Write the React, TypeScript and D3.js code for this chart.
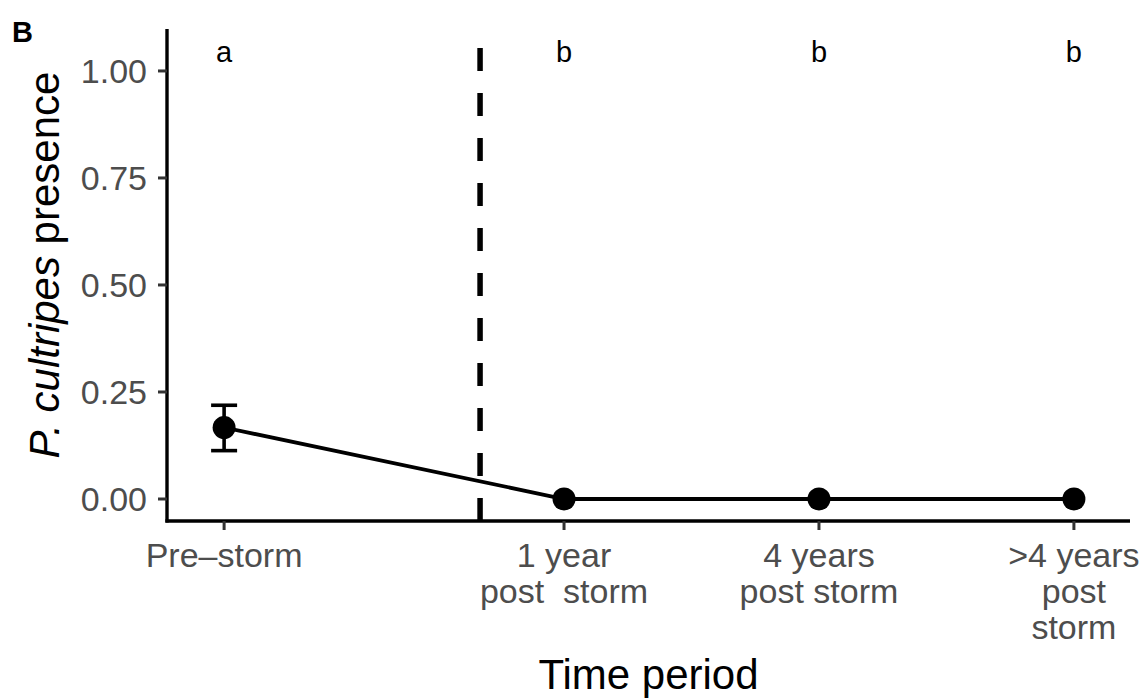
import React from "react";
import * as d3 from "d3";

const categories = ["Pre-storm", "1 year post storm", "4 years post storm", ">4 years post storm"];
const tickLines = [["Pre\u2013storm"], ["1 year", "post  storm"], ["4 years", "post storm"], [">4 years", "post", "storm"]];
const xPositions = [0, 1, 1.75, 2.5];
const meanValues = [0.167, 0, 0, 0];
const lowerValues = [0.113, 0, 0, 0];
const upperValues = [0.219, 0, 0, 0];
const letters = ["a", "b", "b", "b"];
const yTicks = [0, 0.25, 0.5, 0.75, 1.0];
const stormX = 0.753;
const letterY = 1.045;

const W = 1143;
const H = 699;
const left = 167, right = 1130, top = 29, bottom = 521;

export default function App() {
  const x = d3.scaleLinear().domain([-0.168, 2.665]).range([left, right]);
  const y = d3.scaleLinear().domain([-0.0514, 1.098]).range([bottom, top]);
  const line = d3.line<number>().x((_, i) => x(xPositions[i])).y((d) => y(d));
  const tickFont = "'Liberation Sans', Arial, Helvetica, sans-serif";
  return (
    <svg width={W} height={H} style={{ position: "absolute", left: 0, top: 0, background: "#fff" }} fontFamily={tickFont}>
      <rect x={0} y={0} width={W} height={H} fill="#fff" />
      <text x={12} y={42} fontSize={29} fontWeight="bold" fill="#000">B</text>
      {/* dashed storm line */}
      <line x1={x(stormX)} x2={x(stormX)} y1={bottom} y2={top} stroke="#000" strokeWidth={5.5} strokeDasharray="23,22" />
      {/* data line */}
      <path d={line(meanValues) || ""} fill="none" stroke="#000" strokeWidth={3.8} />
      {/* error bars */}
      {categories.map((c, i) => (
        upperValues[i] > lowerValues[i] ? (
          <g key={"eb" + i} stroke="#000" strokeWidth={3.6}>
            <line x1={x(xPositions[i])} x2={x(xPositions[i])} y1={y(lowerValues[i])} y2={y(upperValues[i])} />
            <line x1={x(xPositions[i]) - 13} x2={x(xPositions[i]) + 13} y1={y(lowerValues[i])} y2={y(lowerValues[i])} />
            <line x1={x(xPositions[i]) - 13} x2={x(xPositions[i]) + 13} y1={y(upperValues[i])} y2={y(upperValues[i])} />
          </g>
        ) : null
      ))}
      {meanValues.map((v, i) => (
        <circle key={"pt" + i} cx={x(xPositions[i])} cy={y(v)} r={11.5} fill="#000" />
      ))}
      {letters.map((l, i) => (
        <text key={"lt" + i} x={x(xPositions[i])} y={y(letterY)} dy="0.35em" textAnchor="middle" fontSize={29} fill="#000">{l}</text>
      ))}
      {/* axes */}
      <line x1={left} x2={left} y1={top} y2={bottom + 1.6} stroke="#000" strokeWidth={3.4} />
      <line x1={left - 1.6} x2={right} y1={bottom} y2={bottom} stroke="#000" strokeWidth={3.4} />
      {yTicks.map((t) => (
        <g key={"yt" + t}>
          <line x1={left - 9} x2={left} y1={y(t)} y2={y(t)} stroke="#333" strokeWidth={3} />
          <text x={left - 20} y={y(t)} dy="0.36em" textAnchor="end" fontSize={34} fill="#4d4d4d">{t.toFixed(2)}</text>
        </g>
      ))}
      {categories.map((c, i) => (
        <g key={"xt" + i}>
          <line x1={x(xPositions[i])} x2={x(xPositions[i])} y1={bottom} y2={bottom + 9} stroke="#333" strokeWidth={3} />
          {tickLines[i].map((s, j) => (
            <text key={j} x={x(xPositions[i])} y={567 + j * 36} textAnchor="middle" fontSize={34} fill="#4d4d4d" style={{ whiteSpace: "pre" }}>{s}</text>
          ))}
        </g>
      ))}
      <text x={(left + right) / 2} y={689} textAnchor="middle" fontSize={42} fill="#000">Time period</text>
      <text transform={`translate(59, ${(top + bottom) / 2 - 10}) rotate(-90)`} textAnchor="middle" fontSize={42} fill="#000">
        <tspan fontStyle="italic">P. cultripes</tspan> presence
      </text>
    </svg>
  );
}
